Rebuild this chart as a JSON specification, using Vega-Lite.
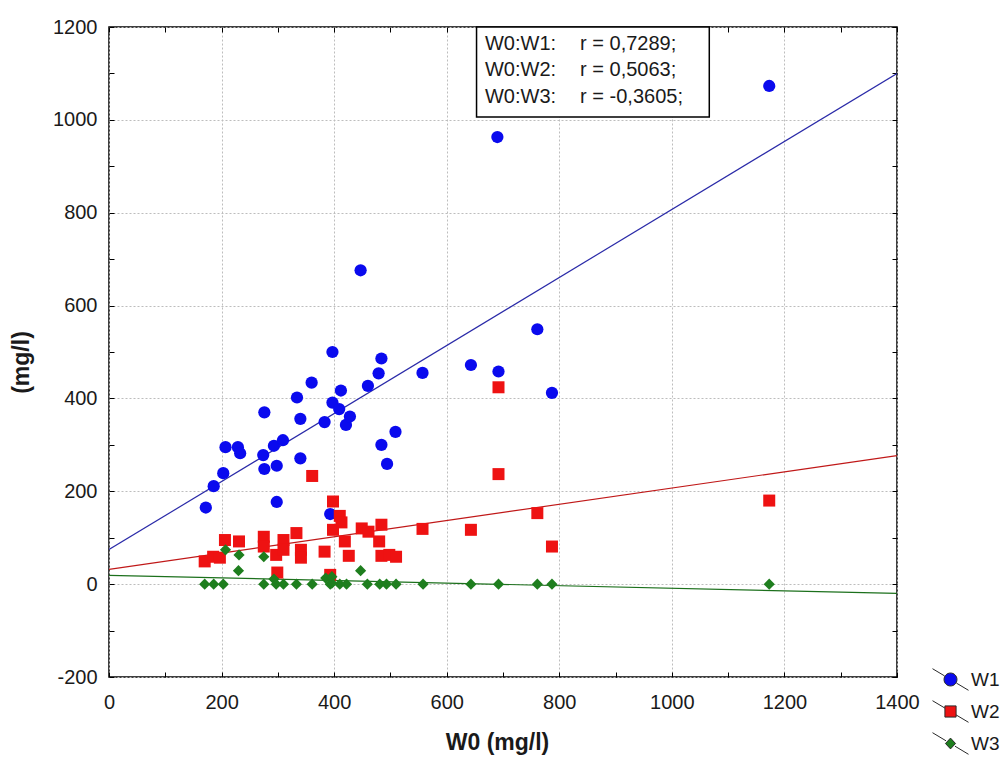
{
  "$schema": "https://vega.github.io/schema/vega-lite/v6.json",
  "width": 788,
  "height": 650,
  "autosize": {"type": "none"},
  "padding": {"left": 109, "top": 27, "right": 110, "bottom": 81},
  "background": "white",
  "config": {
    "font": "Liberation Sans",
    "view": {"stroke": "#000000", "strokeWidth": 1.5},
    "axis": {"gridColor": "#bdbdbd", "gridDash": [2, 2], "gridWidth": 1, "labelFlush": false, "labelOverlap": false, "labelBound": false},
    "legend": {"title": null, "orient": "none", "legendX": 823, "legendY": 634, "symbolSize": 1296, "symbolStrokeWidth": 1, "symbolStrokeColor": "#2a2a2a", "labelFontSize": 19, "labelColor": "#1a1a1a", "labelOffset": 2, "rowPadding": -5, "padding": 0}
  },
  "datasets": {
    "points": [
      {"series": "W1", "w0": 172, "conc": 165}, {"series": "W1", "w0": 186, "conc": 211}, {"series": "W1", "w0": 203, "conc": 239},
      {"series": "W1", "w0": 207, "conc": 295}, {"series": "W1", "w0": 229, "conc": 295}, {"series": "W1", "w0": 233, "conc": 282},
      {"series": "W1", "w0": 276, "conc": 370}, {"series": "W1", "w0": 274, "conc": 278}, {"series": "W1", "w0": 276, "conc": 248},
      {"series": "W1", "w0": 293, "conc": 298}, {"series": "W1", "w0": 309, "conc": 310}, {"series": "W1", "w0": 298, "conc": 255},
      {"series": "W1", "w0": 298, "conc": 177}, {"series": "W1", "w0": 334, "conc": 402}, {"series": "W1", "w0": 340, "conc": 356},
      {"series": "W1", "w0": 340, "conc": 271}, {"series": "W1", "w0": 360, "conc": 434}, {"series": "W1", "w0": 383, "conc": 349},
      {"series": "W1", "w0": 397, "conc": 500}, {"series": "W1", "w0": 393, "conc": 151}, {"series": "W1", "w0": 412, "conc": 417},
      {"series": "W1", "w0": 397, "conc": 391}, {"series": "W1", "w0": 409, "conc": 377}, {"series": "W1", "w0": 421, "conc": 343},
      {"series": "W1", "w0": 428, "conc": 361}, {"series": "W1", "w0": 447, "conc": 676}, {"series": "W1", "w0": 460, "conc": 427},
      {"series": "W1", "w0": 479, "conc": 454}, {"series": "W1", "w0": 484, "conc": 486}, {"series": "W1", "w0": 484, "conc": 300},
      {"series": "W1", "w0": 494, "conc": 259}, {"series": "W1", "w0": 509, "conc": 328}, {"series": "W1", "w0": 557, "conc": 455},
      {"series": "W1", "w0": 643, "conc": 472}, {"series": "W1", "w0": 692, "conc": 458}, {"series": "W1", "w0": 690, "conc": 963},
      {"series": "W1", "w0": 761, "conc": 549}, {"series": "W1", "w0": 787, "conc": 412}, {"series": "W1", "w0": 1173, "conc": 1073},
      {"series": "W2", "w0": 170, "conc": 49}, {"series": "W2", "w0": 185, "conc": 59}, {"series": "W2", "w0": 197, "conc": 57},
      {"series": "W2", "w0": 206, "conc": 95}, {"series": "W2", "w0": 231, "conc": 92}, {"series": "W2", "w0": 275, "conc": 102},
      {"series": "W2", "w0": 275, "conc": 81}, {"series": "W2", "w0": 297, "conc": 63}, {"series": "W2", "w0": 299, "conc": 25},
      {"series": "W2", "w0": 310, "conc": 95}, {"series": "W2", "w0": 310, "conc": 74}, {"series": "W2", "w0": 333, "conc": 110},
      {"series": "W2", "w0": 341, "conc": 74}, {"series": "W2", "w0": 341, "conc": 57}, {"series": "W2", "w0": 361, "conc": 233},
      {"series": "W2", "w0": 383, "conc": 70}, {"series": "W2", "w0": 393, "conc": 20}, {"series": "W2", "w0": 398, "conc": 178},
      {"series": "W2", "w0": 410, "conc": 147}, {"series": "W2", "w0": 413, "conc": 133}, {"series": "W2", "w0": 398, "conc": 117},
      {"series": "W2", "w0": 419, "conc": 92}, {"series": "W2", "w0": 426, "conc": 61}, {"series": "W2", "w0": 449, "conc": 120},
      {"series": "W2", "w0": 461, "conc": 113}, {"series": "W2", "w0": 480, "conc": 92}, {"series": "W2", "w0": 484, "conc": 128},
      {"series": "W2", "w0": 484, "conc": 61}, {"series": "W2", "w0": 498, "conc": 63}, {"series": "W2", "w0": 510, "conc": 59},
      {"series": "W2", "w0": 557, "conc": 119}, {"series": "W2", "w0": 643, "conc": 117}, {"series": "W2", "w0": 692, "conc": 237},
      {"series": "W2", "w0": 692, "conc": 424}, {"series": "W2", "w0": 761, "conc": 153}, {"series": "W2", "w0": 787, "conc": 81},
      {"series": "W2", "w0": 1173, "conc": 180},
      {"series": "W3", "w0": 170, "conc": 0}, {"series": "W3", "w0": 186, "conc": 0}, {"series": "W3", "w0": 203, "conc": 0},
      {"series": "W3", "w0": 207, "conc": 74}, {"series": "W3", "w0": 231, "conc": 63}, {"series": "W3", "w0": 230, "conc": 29},
      {"series": "W3", "w0": 275, "conc": 59}, {"series": "W3", "w0": 275, "conc": 0}, {"series": "W3", "w0": 293, "conc": 11},
      {"series": "W3", "w0": 297, "conc": 0}, {"series": "W3", "w0": 310, "conc": 0}, {"series": "W3", "w0": 333, "conc": 0},
      {"series": "W3", "w0": 361, "conc": 0}, {"series": "W3", "w0": 385, "conc": 13}, {"series": "W3", "w0": 393, "conc": 0},
      {"series": "W3", "w0": 396, "conc": 16}, {"series": "W3", "w0": 396, "conc": 2}, {"series": "W3", "w0": 410, "conc": 0},
      {"series": "W3", "w0": 422, "conc": 0}, {"series": "W3", "w0": 447, "conc": 29}, {"series": "W3", "w0": 459, "conc": 0},
      {"series": "W3", "w0": 481, "conc": 0}, {"series": "W3", "w0": 493, "conc": 0}, {"series": "W3", "w0": 510, "conc": 0},
      {"series": "W3", "w0": 558, "conc": 0}, {"series": "W3", "w0": 643, "conc": 0}, {"series": "W3", "w0": 692, "conc": 0},
      {"series": "W3", "w0": 761, "conc": 0}, {"series": "W3", "w0": 787, "conc": 0}, {"series": "W3", "w0": 1173, "conc": 0}
    ],
    "fits": [
      {"series": "W1", "w0": 0, "conc": 74.5}, {"series": "W1", "w0": 1400, "conc": 1100},
      {"series": "W2", "w0": 0, "conc": 32}, {"series": "W2", "w0": 1400, "conc": 277},
      {"series": "W3", "w0": 0, "conc": 19}, {"series": "W3", "w0": 1400, "conc": -20}
    ],
    "box": [{"x1": 653, "x2": 1066.5, "y1": 1200, "y2": 1006}],
    "notes": [
      {"w0": 668, "conc": 1164, "text": "W0:W1:"}, {"w0": 837, "conc": 1164, "text": "r = 0,7289;"},
      {"w0": 668, "conc": 1107, "text": "W0:W2:"}, {"w0": 837, "conc": 1107, "text": "r = 0,5063;"},
      {"w0": 668, "conc": 1050, "text": "W0:W3:"}, {"w0": 837, "conc": 1050, "text": "r = -0,3605;"}
    ]
  },
  "resolve": {"axis": {"x": "independent", "y": "independent"}},
  "layer": [
    {
      "data": {"name": "fits"},
      "transform": [{"filter": "datum.series === 'W1'"}],
      "mark": {"type": "line", "strokeWidth": 1.2, "clip": true, "color": "#2a2aa8"},
      "encoding": {
        "x": {"field": "w0", "type": "quantitative", "scale": {"domain": [0, 1400], "nice": false, "zero": false},
          "axis": {"orient": "bottom", "values": [0,100,200,300,400,500,600,700,800,900,1000,1100,1200,1300,1400], "labels": false, "grid": false, "domain": false, "ticks": true, "tickSize": -5, "tickColor": "#000000", "tickWidth": 1, "title": null}},
        "y": {"field": "conc", "type": "quantitative", "scale": {"domain": [-200, 1200], "nice": false, "zero": false},
          "axis": {"orient": "left", "values": [-200,-100,0,100,200,300,400,500,600,700,800,900,1000,1100,1200], "labels": false, "grid": false, "domain": false, "ticks": true, "tickSize": -5, "tickColor": "#000000", "tickWidth": 1, "title": null}}
      }
    },
    {
      "data": {"name": "fits"},
      "transform": [{"filter": "datum.series === 'W2'"}],
      "mark": {"type": "line", "strokeWidth": 1.2, "clip": true, "color": "#c01818"},
      "encoding": {
        "x": {"field": "w0", "type": "quantitative", "axis": null},
        "y": {"field": "conc", "type": "quantitative", "axis": null}
      }
    },
    {
      "data": {"name": "fits"},
      "transform": [{"filter": "datum.series === 'W3'"}],
      "mark": {"type": "line", "strokeWidth": 1.2, "clip": true, "color": "#1c701c"},
      "encoding": {
        "x": {"field": "w0", "type": "quantitative", "axis": null},
        "y": {"field": "conc", "type": "quantitative", "axis": null}
      }
    },
    {
      "data": {"name": "points"},
      "transform": [{"filter": "datum.series === 'W1'"}],
      "mark": {"type": "point", "shape": "circle", "filled": true, "opacity": 1, "size": 150},
      "encoding": {
        "x": {"field": "w0", "type": "quantitative",
          "axis": {"orient": "bottom", "values": [0,200,400,600,800,1000,1200,1400], "grid": true, "ticks": false, "domain": false, "labelFontSize": 20, "labelPadding": 15, "labelColor": "#1a1a1a", "labelExpr": "'' + datum.value",
            "title": "W0 (mg/l)", "titleFontSize": 23, "titleFontWeight": "bold", "titleColor": "#1a1a1a", "titleX": 388, "titleY": 72, "titleBaseline": "alphabetic", "titleAlign": "center", "titleAnchor": null}},
        "y": {"field": "conc", "type": "quantitative",
          "axis": {"orient": "left", "values": [-200,0,200,400,600,800,1000,1200], "grid": true, "ticks": false, "domain": false, "labelFontSize": 20, "labelPadding": 12, "labelColor": "#1a1a1a", "labelExpr": "datum.value < 0 ? '-' + abs(datum.value) : '' + datum.value",
            "title": "(mg/l)", "titleFontSize": 23, "titleFontWeight": "bold", "titleColor": "#1a1a1a", "titleX": -80.5, "titleY": 335, "titleAngle": 270, "titleBaseline": "alphabetic", "titleAlign": "center", "titleAnchor": null}},
        "color": {"field": "series", "type": "nominal", "scale": {"domain": ["W1", "W2", "W3"], "range": ["#0a0aee", "#ee1212", "#1e7e1e"]},
          "legend": {"title": null, "orient": "none", "legendX": 823, "legendY": 634, "symbolSize": 1296, "symbolStrokeWidth": 1, "symbolStrokeColor": "#2a2a2a", "labelFontSize": 19, "labelColor": "#1a1a1a", "labelOffset": 2, "rowPadding": -5, "padding": 0}}
      }
    },
    {
      "data": {"name": "points"},
      "transform": [{"filter": "datum.series === 'W2'"}],
      "mark": {"type": "point", "shape": "square", "filled": true, "opacity": 1, "size": 144},
      "encoding": {
        "x": {"field": "w0", "type": "quantitative", "axis": null},
        "y": {"field": "conc", "type": "quantitative", "axis": null},
        "color": {"field": "series", "type": "nominal",
          "legend": {"title": null, "orient": "none", "legendX": 823, "legendY": 634, "symbolSize": 1296, "symbolStrokeWidth": 1, "symbolStrokeColor": "#2a2a2a", "labelFontSize": 19, "labelColor": "#1a1a1a", "labelOffset": 2, "rowPadding": -5, "padding": 0}}
      }
    },
    {
      "data": {"name": "points"},
      "transform": [{"filter": "datum.series === 'W3'"}],
      "mark": {"type": "point", "shape": "diamond", "filled": true, "opacity": 1, "size": 125},
      "encoding": {
        "x": {"field": "w0", "type": "quantitative", "axis": null},
        "y": {"field": "conc", "type": "quantitative", "axis": null},
        "color": {"field": "series", "type": "nominal",
          "legend": {"title": null, "orient": "none", "legendX": 823, "legendY": 634, "symbolSize": 1296, "symbolStrokeWidth": 1, "symbolStrokeColor": "#2a2a2a", "labelFontSize": 19, "labelColor": "#1a1a1a", "labelOffset": 2, "rowPadding": -5, "padding": 0}}
      }
    },
    {
      "data": {"name": "points"},
      "transform": [{"filter": "datum.conc > 100000"}],
      "mark": {"type": "point", "filled": true, "opacity": 1},
      "encoding": {
        "x": {"field": "w0", "type": "quantitative", "axis": null},
        "y": {"field": "conc", "type": "quantitative", "axis": null},
        "color": {"field": "series", "type": "nominal",
          "legend": {"title": null, "orient": "none", "legendX": 823, "legendY": 634, "symbolSize": 1296, "symbolStrokeWidth": 1, "symbolStrokeColor": "#2a2a2a", "labelFontSize": 19, "labelColor": "#1a1a1a", "labelOffset": 2, "rowPadding": -5, "padding": 0}},
        "shape": {"field": "series", "type": "nominal",
          "scale": {"domain": ["W1", "W2", "W3"], "range": [
            "M-1,-0.6L-0.33,-0.2M0.33,0.2L1,0.6M0.36,0A0.36,0.36,0,1,1,-0.36,0A0.36,0.36,0,1,1,0.36,0Z",
            "M-1,-0.6L-0.31,-0.19M0.31,0.19L1,0.6M-0.31,-0.31L0.31,-0.31L0.31,0.31L-0.31,0.31Z",
            "M-1,-0.6L-0.25,-0.15M0.25,0.15L1,0.6M0,-0.3L0.28,0L0,0.3L-0.28,0Z"]},
          "legend": {"title": null, "orient": "none", "legendX": 823, "legendY": 634, "symbolSize": 1296, "symbolStrokeWidth": 1, "symbolStrokeColor": "#2a2a2a", "labelFontSize": 19, "labelColor": "#1a1a1a", "labelOffset": 2, "rowPadding": -5, "padding": 0}}
      }
    },
    {
      "data": {"name": "box"},
      "mark": {"type": "rect", "fill": "white", "stroke": "#000000", "strokeWidth": 1.5},
      "encoding": {
        "x": {"field": "x1", "type": "quantitative",
          "axis": {"orient": "top", "values": [0,100,200,300,400,500,600,700,800,900,1000,1100,1200,1300,1400], "labels": false, "grid": false, "domain": false, "ticks": true, "tickSize": -5, "tickColor": "#000000", "tickWidth": 1, "title": null}},
        "x2": {"field": "x2"},
        "y": {"field": "y1", "type": "quantitative",
          "axis": {"orient": "right", "values": [-200,-100,0,100,200,300,400,500,600,700,800,900,1000,1100,1200], "labels": false, "grid": false, "domain": false, "ticks": true, "tickSize": -5, "tickColor": "#000000", "tickWidth": 1, "title": null}},
        "y2": {"field": "y2"}
      }
    },
    {
      "data": {"name": "notes"},
      "mark": {"type": "text", "align": "left", "baseline": "middle", "fontSize": 20, "color": "#1a1a1a"},
      "encoding": {
        "x": {"field": "w0", "type": "quantitative", "axis": null},
        "y": {"field": "conc", "type": "quantitative", "axis": null},
        "text": {"field": "text"}
      }
    }
  ]
}
